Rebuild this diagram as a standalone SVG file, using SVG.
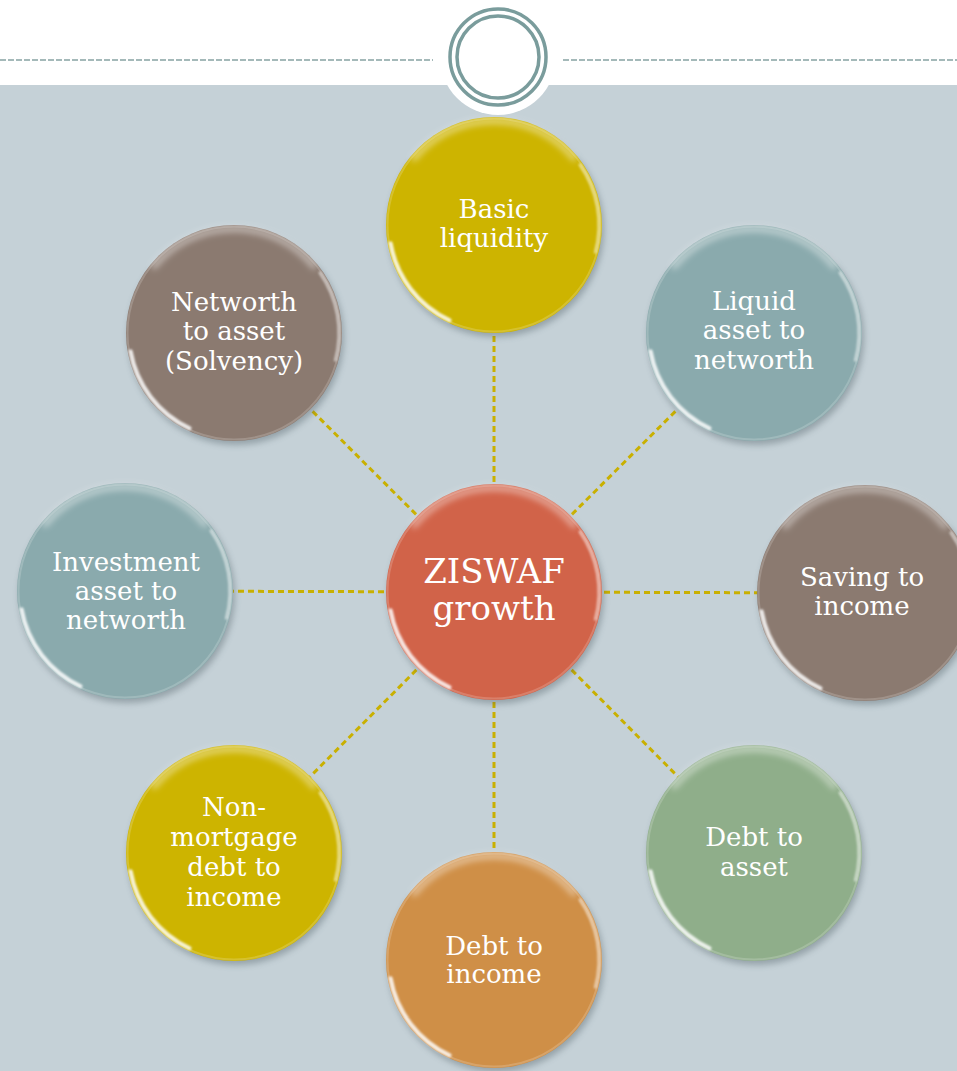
<svg xmlns="http://www.w3.org/2000/svg" xmlns:xlink="http://www.w3.org/1999/xlink" width="957" height="1071" viewBox="0 0 957 1071">
<style>
.lbl{font-family:"DejaVu Serif","Liberation Serif",serif;font-size:26px;fill:#ffffff;text-anchor:middle}
.big{font-size:34px}
.conn{stroke:#c9b000;stroke-width:3;stroke-dasharray:6 4;fill:none}
.topdash{stroke:#86a3a3;stroke-width:1.6;stroke-dasharray:6 2;fill:none}
.ring{fill:none;stroke:#7a9c9c;stroke-width:3.5}
</style>
<defs>
<filter id="sh" x="-30%" y="-30%" width="160%" height="160%"><feGaussianBlur stdDeviation="3"/></filter>
<filter id="bl" x="-30%" y="-30%" width="160%" height="160%"><feGaussianBlur stdDeviation="1.2"/></filter>
<filter id="bl2" x="-30%" y="-30%" width="160%" height="160%"><feGaussianBlur stdDeviation="3"/></filter>
<g id="shadow"><circle cx="2" cy="4" r="108" fill="#3d4d55" opacity="0.35" filter="url(#sh)"/></g>
<g id="gloss">
<circle r="106.5" fill="none" stroke="#ffffff" stroke-opacity="0.18" stroke-width="2"/>
<path d="M -79.7 -66.9 A 104 104 0 0 1 79.7 -66.9" fill="none" stroke="#ffffff" stroke-opacity="0.45" stroke-width="6" stroke-linecap="round" filter="url(#bl2)"/>
<path d="M -44.4 95.2 A 105 105 0 0 1 -103.4 18.2" fill="none" stroke="#ffffff" stroke-opacity="0.85" stroke-width="4" stroke-linecap="round" filter="url(#bl)"/>
<path d="M 86.0 -60.2 A 105 105 0 0 1 101.4 27.2" fill="none" stroke="#ffffff" stroke-opacity="0.55" stroke-width="3" stroke-linecap="round" filter="url(#bl)"/>
</g>
</defs>
<rect x="0" y="0" width="957" height="1071" fill="#c5d1d7"/>
<rect x="0" y="0" width="957" height="85" fill="#ffffff"/>
<circle cx="498" cy="57" r="58" fill="#ffffff"/>
<path class="topdash" d="M0 60 H433 M563 60 H957"/>
<circle class="ring" cx="498" cy="57" r="48"/>
<circle class="ring" cx="498" cy="57" r="41"/>
<g id="connectors">
<line class="conn" x1="494" y1="592" x2="494" y2="225"/>
<line class="conn" x1="494" y1="592" x2="754" y2="333"/>
<line class="conn" x1="494" y1="592" x2="865" y2="593"/>
<line class="conn" x1="494" y1="592" x2="754" y2="853"/>
<line class="conn" x1="494" y1="592" x2="494" y2="960"/>
<line class="conn" x1="494" y1="592" x2="234" y2="853"/>
<line class="conn" x1="494" y1="592" x2="125" y2="591"/>
<line class="conn" x1="494" y1="592" x2="234" y2="333"/>
</g>
<g id="basic-liquidity" transform="translate(494 225)">
<use xlink:href="#shadow"/><circle r="108" fill="#cdb400"/><use xlink:href="#gloss"/>
<text class="lbl" x="0" y="-7">Basic</text><text class="lbl" x="0" y="22">liquidity</text>
</g>
<g id="liquid-asset" transform="translate(754 333)">
<use xlink:href="#shadow"/><circle r="108" fill="#8aaaad"/><use xlink:href="#gloss"/>
<text class="lbl" x="0" y="-23">Liquid</text><text class="lbl" x="0" y="6">asset to</text><text class="lbl" x="0" y="36">networth</text>
</g>
<g id="saving-income" transform="translate(865 593)">
<use xlink:href="#shadow"/><circle r="108" fill="#8b7a70"/><use xlink:href="#gloss"/>
<text class="lbl" x="-3" y="-7">Saving to</text><text class="lbl" x="-3" y="22">income</text>
</g>
<g id="debt-asset" transform="translate(754 853)">
<use xlink:href="#shadow"/><circle r="108" fill="#8fae8a"/><use xlink:href="#gloss"/>
<text class="lbl" x="0" y="-7">Debt to</text><text class="lbl" x="0" y="23">asset</text>
</g>
<g id="debt-income" transform="translate(494 960)">
<use xlink:href="#shadow"/><circle r="108" fill="#cf8f47"/><use xlink:href="#gloss"/>
<text class="lbl" x="0" y="-5">Debt to</text><text class="lbl" x="0" y="23">income</text>
</g>
<g id="non-mortgage" transform="translate(234 853)">
<use xlink:href="#shadow"/><circle r="108" fill="#cdb400"/><use xlink:href="#gloss"/>
<text class="lbl" x="0" y="-37">Non-</text><text class="lbl" x="0" y="-7">mortgage</text><text class="lbl" x="0" y="23">debt to</text><text class="lbl" x="0" y="53">income</text>
</g>
<g id="investment-asset" transform="translate(125 591)">
<use xlink:href="#shadow"/><circle r="108" fill="#8aaaad"/><use xlink:href="#gloss"/>
<text class="lbl" x="1" y="-20">Investment</text><text class="lbl" x="1" y="9">asset to</text><text class="lbl" x="1" y="38">networth</text>
</g>
<g id="networth-asset" transform="translate(234 333)">
<use xlink:href="#shadow"/><circle r="108" fill="#8b7a70"/><use xlink:href="#gloss"/>
<text class="lbl" x="0" y="-22">Networth</text><text class="lbl" x="0" y="7">to asset</text><text class="lbl" x="0" y="37">(Solvency)</text>
</g>
<g id="center" transform="translate(494 592)">
<use xlink:href="#shadow"/><circle r="108" fill="#d16349"/><use xlink:href="#gloss"/>
<text class="lbl big" x="0" y="-9">ZISWAF</text><text class="lbl big" x="0" y="28">growth</text>
</g>
</svg>
